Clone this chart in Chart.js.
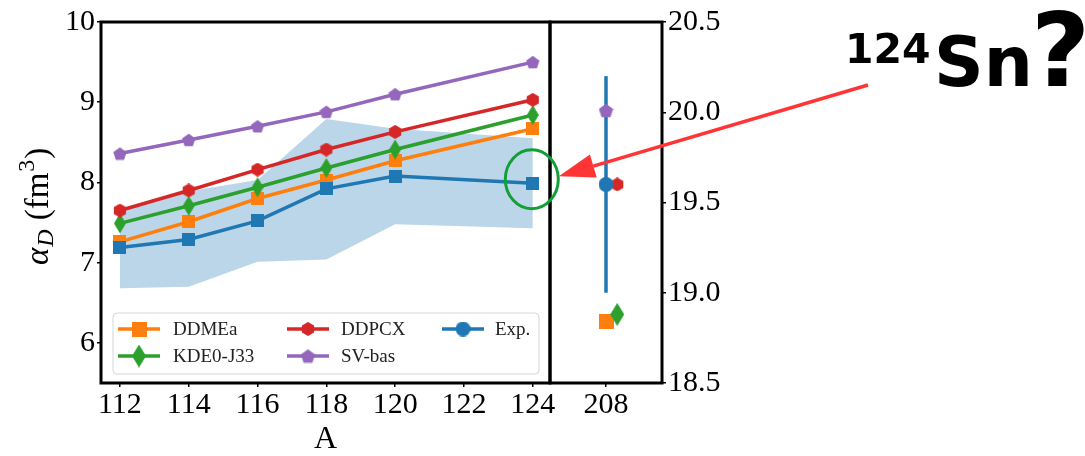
<!DOCTYPE html>
<html>
<head>
<meta charset="utf-8">
<script src="https://cdn.jsdelivr.net/npm/chart.js@4/dist/chart.umd.min.js"></script>
<style>
  html, body { margin: 0; padding: 0; background: #fff; }
  #wrap { position: relative; width: 1085px; height: 456px; }
  #wrap canvas { position: absolute; left: 0; top: 0; }
</style>
</head>
<body>
<div id="wrap">
  <canvas id="tin" width="1085" height="456"></canvas>
  <canvas id="lead" width="1085" height="456"></canvas>
</div>
<script>
// Sn isotopes
const massNumbers = [112, 114, 116, 118, 120, 124];
const ddmea   = [7.26, 7.51, 7.80, 8.03, 8.27, 8.67];
const kde0j33 = [7.49, 7.71, 7.94, 8.18, 8.41, 8.84];
const ddpcx   = [7.65, 7.90, 8.16, 8.41, 8.63, 9.03];
const svBas   = [8.36, 8.53, 8.70, 8.88, 9.10, 9.50];
const expSn   = [7.19, 7.29, 7.52, 7.92, 8.08, 7.99];
const expSnLow  = [6.68, 6.70, 7.01, 7.04, 7.48, 7.43];
const expSnHigh = [7.66, 7.89, 8.03, 8.79, 8.67, 8.55];

// 208Pb (right axis), models shifted a little to the side
const pbA = 208;
const pbX = { ddmea: 208.0, kde0j33: 208.1, ddpcx: 208.1, svBas: 208.0, exp: 208.0 };
const pbY = { ddmea: 18.84, kde0j33: 18.88, ddpcx: 19.60, svBas: 20.01, exp: 19.60 };
const pbExpErr = 0.6;

const snTicksX = [112, 114, 116, 118, 120, 122, 124];
const snTicksY = [6, 7, 8, 9, 10];
const pbTicksY = [18.5, 19.0, 19.5, 20.0, 20.5];

const C0 = '#1f77b4', C1 = '#ff7f0e', C2 = '#2ca02c', C3 = '#d62728', C4 = '#9467bd';
const SERIF = '"Liberation Serif", "Times New Roman", serif';

function makeMarker(shape, color, w, h) {
  h = h || w;
  const c = document.createElement('canvas');
  c.width = w; c.height = h;
  const g = c.getContext('2d');
  g.fillStyle = color;
  g.beginPath();
  if (shape === 'square') {
    g.rect(0, 0, w, h);
  } else if (shape === 'circle') {
    g.arc(w / 2, h / 2, w / 2, 0, 2 * Math.PI);
  } else if (shape === 'diamond') {
    g.moveTo(w / 2, 0); g.lineTo(w, h / 2); g.lineTo(w / 2, h); g.lineTo(0, h / 2);
  } else {
    const n = shape === 'hexagon' ? 6 : 5;
    const r = w / 2;
    for (let i = 0; i < n; i++) {
      const a = -Math.PI / 2 + i * 2 * Math.PI / n;
      const px = w / 2 + r * Math.cos(a), py = h / 2 + r * Math.sin(a) + (n === 5 ? r * 0.1 : 0);
      if (i === 0) g.moveTo(px, py); else g.lineTo(px, py);
    }
  }
  g.closePath();
  g.fill();
  return c;
}

const series = [
  { key: 'ddmea',   label: 'DDMEa',    color: C1, shape: 'square',  vals: ddmea,   small: [13, 13], big: [15, 15] },
  { key: 'kde0j33', label: 'KDE0-J33', color: C2, shape: 'diamond', vals: kde0j33, small: [12, 20], big: [14, 23] },
  { key: 'ddpcx',   label: 'DDPCX',    color: C3, shape: 'hexagon', vals: ddpcx,   small: [14, 14], big: [14, 14] },
  { key: 'svBas',   label: 'SV-bas',   color: C4, shape: 'pentagon',vals: svBas,   small: [14, 14], big: [15, 15] },
  { key: 'exp',     label: 'Exp.',     color: C0, shape: 'square',  vals: expSn,   small: [13, 13], big: [15, 15], bigShape: 'circle' }
];
series.forEach(s => {
  s.smallImg = makeMarker(s.shape, s.color, s.small[0], s.small[1]);
  s.bigImg = makeMarker(s.bigShape || s.shape, s.color, s.big[0], s.big[1]);
});

const pts = arr => massNumbers.map((a, i) => ({ x: a, y: arr[i] }));

// frame around the plot area
const framePlugin = {
  id: 'frame',
  afterDraw(chart) {
    const { ctx, chartArea: a } = chart;
    ctx.save();
    ctx.strokeStyle = '#000';
    ctx.lineWidth = 3;
    ctx.strokeRect(a.left, a.top, a.right - a.left, a.bottom - a.top);
    ctx.restore();
  }
};

// alpha_D (fm^3) label and the legend box
const tinDecor = {
  id: 'tinDecor',
  afterDraw(chart) {
    const ctx = chart.ctx;
    ctx.save();
    ctx.fillStyle = '#000';
    ctx.textBaseline = 'alphabetic';
    ctx.translate(48, 265);
    ctx.rotate(-Math.PI / 2);
    let x = 0;
    ctx.font = 'italic 33px ' + SERIF;
    ctx.fillText('α', x, 0); x += ctx.measureText('α').width + 1;
    ctx.font = 'italic 24px ' + SERIF;
    ctx.fillText('D', x, 5); x += ctx.measureText('D').width + 9;
    ctx.font = '33px ' + SERIF;
    ctx.fillText('(fm', x, 0); x += ctx.measureText('(fm').width + 1;
    ctx.font = '24px ' + SERIF;
    ctx.fillText('3', x, -14); x += ctx.measureText('3').width + 1;
    ctx.font = '33px ' + SERIF;
    ctx.fillText(')', x, 0);
    ctx.restore();

    // legend
    ctx.save();
    const bx = 113, by = 313, bw = 426, bh = 61;
    ctx.beginPath();
    ctx.roundRect(bx, by, bw, bh, 4);
    ctx.fillStyle = 'rgba(255,255,255,0.85)';
    ctx.fill();
    ctx.strokeStyle = '#d6d6d6';
    ctx.lineWidth = 1;
    ctx.stroke();
    const colX = [118, 287, 442], textX = [173, 341, 495], rowY = [329, 356];
    const layout = [[0, 0], [0, 1], [1, 0], [1, 1], [2, 0]];
    series.forEach((s, i) => {
      const [c, r] = layout[i];
      const y = rowY[r];
      ctx.strokeStyle = s.color;
      ctx.lineWidth = 3.5;
      ctx.beginPath();
      ctx.moveTo(colX[c], y); ctx.lineTo(colX[c] + 42, y);
      ctx.stroke();
      const img = s.bigImg;
      ctx.drawImage(img, colX[c] + 21 - img.width / 2, y - img.height / 2);
      ctx.fillStyle = '#222';
      ctx.font = '19px ' + SERIF;
      ctx.textBaseline = 'middle';
      ctx.fillText(s.label, textX[c], y + 1);
    });
    ctx.restore();
  }
};

const tinDatasets = [
  { label: 'low', data: pts(expSnLow), borderWidth: 0, pointRadius: 0, fill: false, order: 10 },
  { label: 'high', data: pts(expSnHigh), borderWidth: 0, pointRadius: 0, fill: '-1',
    backgroundColor: 'rgba(31,119,180,0.3)', order: 9 }
];
series.forEach((s, i) => {
  tinDatasets.push({
    label: s.label,
    data: pts(s.vals),
    borderColor: s.color,
    backgroundColor: s.color,
    borderWidth: 3.5,
    pointStyle: s.smallImg,
    pointRadius: 6,
    tension: 0,
    fill: false,
    order: series.length - i
  });
});

const tickFont = { family: SERIF, size: 30 };

const tinChart = new Chart(document.getElementById('tin'), {
  type: 'line',
  data: { datasets: tinDatasets },
  options: {
    responsive: false,
    animation: false,
    events: [],
    layout: { padding: { left: 0, right: 1085 - 550, top: 22, bottom: 0 } },
    plugins: {
      legend: { display: false },
      tooltip: { enabled: false },
      filler: { drawTime: 'beforeDatasetsDraw' }
    },
    scales: {
      x: {
        type: 'linear', min: 111.45, max: 124.5,
        afterBuildTicks: s => { s.ticks = snTicksX.map(v => ({ value: v })); },
        afterFit: s => { s.height = 73; },
        ticks: { font: tickFont, color: '#000', padding: 0, maxRotation: 0 },
        grid: { display: true, drawOnChartArea: false, drawTicks: true, tickLength: 4, color: '#000', lineWidth: 1.5 },
        border: { display: false },
        title: { display: true, text: 'A', font: { family: SERIF, size: 32, lineHeight: 1 }, color: '#000', padding: { top: 0, bottom: 0 } }
      },
      y: {
        type: 'linear', min: 5.5, max: 10,
        afterBuildTicks: s => { s.ticks = snTicksY.map(v => ({ value: v })); },
        afterFit: s => { s.width = 101; },
        ticks: { font: tickFont, color: '#000', padding: 2 },
        grid: { display: true, drawOnChartArea: false, drawTicks: true, tickLength: 4, color: '#000', lineWidth: 1.5 },
        border: { display: false }
      }
    }
  },
  plugins: [framePlugin, tinDecor]
});

// error bar for the 208Pb measurement
const errorBarPlugin = {
  id: 'errorBar',
  beforeDatasetsDraw(chart) {
    const { ctx, scales: { x, y } } = chart;
    ctx.save();
    ctx.strokeStyle = C0;
    ctx.lineWidth = 3.5;
    ctx.beginPath();
    ctx.moveTo(x.getPixelForValue(pbX.exp), y.getPixelForValue(pbY.exp - pbExpErr));
    ctx.lineTo(x.getPixelForValue(pbX.exp), y.getPixelForValue(pbY.exp + pbExpErr));
    ctx.stroke();
    ctx.restore();
  }
};

// green ring on the 124Sn point, red arrow and the 124Sn? note
const noteTarget = { a: 124, v: expSn[massNumbers.indexOf(124)] };
const notePlugin = {
  id: 'note',
  afterDraw(chart) {
    const ctx = chart.ctx;
    const cx = tinChart.scales.x.getPixelForValue(noteTarget.a) - 1;
    const cy = tinChart.scales.y.getPixelForValue(noteTarget.v) - 4;
    ctx.save();
    ctx.strokeStyle = '#10a035';
    ctx.lineWidth = 3;
    ctx.beginPath();
    ctx.ellipse(cx, cy, 26.5, 29.5, 0, 0, 2 * Math.PI);
    ctx.stroke();

    const tipX = cx + 27, tipY = cy - 3;
    const fromX = 868, fromY = 85;
    const ang = Math.atan2(fromY - tipY, fromX - tipX);
    const hl = 36, hw = 12;
    const baseX = tipX + hl * Math.cos(ang), baseY = tipY + hl * Math.sin(ang);
    ctx.strokeStyle = '#ff3535';
    ctx.fillStyle = '#ff3535';
    ctx.lineWidth = 3.5;
    ctx.beginPath();
    ctx.moveTo(fromX, fromY); ctx.lineTo(baseX, baseY);
    ctx.stroke();
    ctx.beginPath();
    ctx.moveTo(tipX, tipY);
    ctx.lineTo(baseX - hw * Math.sin(ang), baseY + hw * Math.cos(ang));
    ctx.lineTo(baseX + hw * Math.sin(ang), baseY - hw * Math.cos(ang));
    ctx.closePath();
    ctx.fill();

    ctx.fillStyle = '#000';
    ctx.textBaseline = 'alphabetic';
    ctx.font = 'bold 41px "DejaVu Sans"';
    ctx.fillText('124', 845, 63);
    ctx.font = 'bold 69px "DejaVu Sans"';
    ctx.fillText('Sn', 934, 86);
    ctx.font = 'bold 102px "DejaVu Sans"';
    ctx.fillText('?', 1031, 86);
    ctx.restore();
  }
};

const leadDatasets = series.map((s, i) => ({
  label: s.label,
  data: [{ x: pbX[s.key], y: pbY[s.key] }],
  backgroundColor: s.color,
  borderColor: s.color,
  pointStyle: s.bigImg,
  pointRadius: 7,
  order: s.key === 'svBas' ? 0 : (s.key === 'exp' ? 1 : series.length - i + 1)
}));

new Chart(document.getElementById('lead'), {
  type: 'scatter',
  data: { datasets: leadDatasets },
  options: {
    responsive: false,
    animation: false,
    events: [],
    layout: { padding: { left: 550, right: 1085 - 662 - 70, top: 22, bottom: 0 } },
    plugins: { legend: { display: false }, tooltip: { enabled: false } },
    scales: {
      x: {
        type: 'linear', min: pbA - 0.5, max: pbA + 0.5,
        afterBuildTicks: s => { s.ticks = [{ value: pbA }]; },
        afterFit: s => { s.height = 73; },
        ticks: { font: tickFont, color: '#000', padding: 0, maxRotation: 0 },
        grid: { display: true, drawOnChartArea: false, drawTicks: true, tickLength: 4, color: '#000', lineWidth: 1.5 },
        border: { display: false }
      },
      y: {
        type: 'linear', position: 'right', min: 18.5, max: 20.5,
        afterBuildTicks: s => { s.ticks = pbTicksY.map(v => ({ value: v })); },
        afterFit: s => { s.width = 70; },
        ticks: { font: tickFont, color: '#000', padding: 2, callback: v => v.toFixed(1) },
        grid: { display: true, drawOnChartArea: false, drawTicks: true, tickLength: 4, color: '#000', lineWidth: 1.5 },
        border: { display: false }
      }
    }
  },
  plugins: [framePlugin, errorBarPlugin, notePlugin]
});
</script>
</body>
</html>
